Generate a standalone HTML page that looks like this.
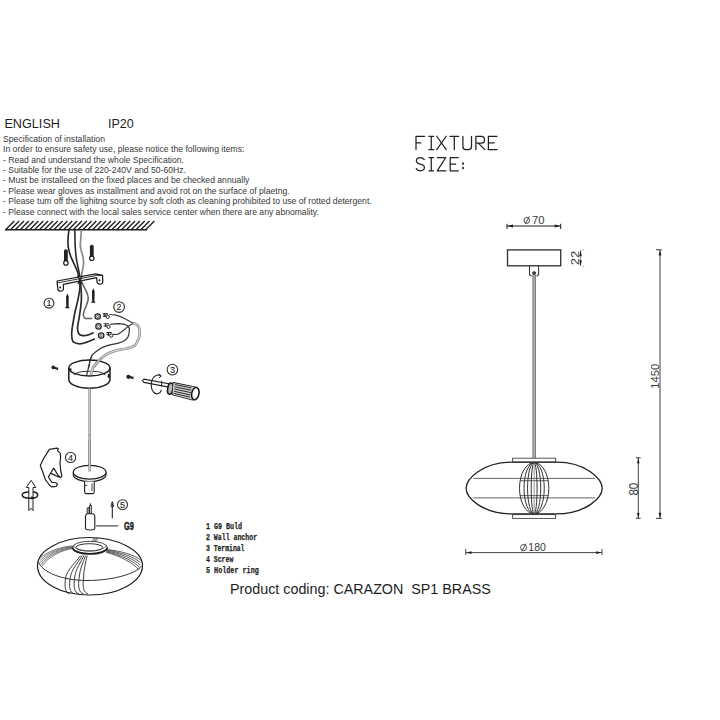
<!DOCTYPE html>
<html><head><meta charset="utf-8"><style>
html,body{margin:0;padding:0;background:#fff;width:720px;height:720px;overflow:hidden}
svg{display:block}

</style></head><body>
<svg width="720" height="720" viewBox="0 0 720 720">
<rect width="720" height="720" fill="#fff"/>
<text x="4.4" y="127.5" font-family="Liberation Sans" font-size="13.3" fill="#1e1e1e" textLength="55.6" lengthAdjust="spacingAndGlyphs">ENGLISH</text>
<text x="107.9" y="127.5" font-family="Liberation Sans" font-size="13.4" fill="#1e1e1e" textLength="25.8" lengthAdjust="spacingAndGlyphs">IP20</text>
<text x="3" y="142.0" font-family="Liberation Sans" font-size="9" fill="#383838" textLength="102.0" lengthAdjust="spacingAndGlyphs">Specification of installation</text>
<text x="3" y="152.3" font-family="Liberation Sans" font-size="9" fill="#383838" textLength="241.4" lengthAdjust="spacingAndGlyphs">In order to ensure safety use, please notice the following items:</text>
<text x="3" y="162.6" font-family="Liberation Sans" font-size="9" fill="#383838" textLength="181.0" lengthAdjust="spacingAndGlyphs">- Read and understand the whole Specification.</text>
<text x="3" y="173.0" font-family="Liberation Sans" font-size="9" fill="#383838" textLength="183.0" lengthAdjust="spacingAndGlyphs">- Suitable for the use of 220-240V and 50-60Hz.</text>
<text x="3" y="183.3" font-family="Liberation Sans" font-size="9" fill="#383838" textLength="246.4" lengthAdjust="spacingAndGlyphs">- Must be installeed on the fixed places and be checked annually</text>
<text x="3" y="193.9" font-family="Liberation Sans" font-size="9" fill="#383838" textLength="286.7" lengthAdjust="spacingAndGlyphs">- Please wear gloves as installment and avoid rot on the surface of plaetng.</text>
<text x="3" y="204.2" font-family="Liberation Sans" font-size="9" fill="#383838" textLength="368.7" lengthAdjust="spacingAndGlyphs">- Please tum off the lighitng source by soft cloth as cleaning prohibited to use of rotted detergent.</text>
<text x="3" y="214.6" font-family="Liberation Sans" font-size="9" fill="#383838" textLength="315.9" lengthAdjust="spacingAndGlyphs">- Please connect with the local sales service center when there are any abnomality.</text>
<text x="230" y="593.5" font-family="Liberation Sans" font-size="14.3" fill="#1e1e1e" textLength="260.8" lengthAdjust="spacingAndGlyphs" xml:space="preserve">Product coding: CARAZON  SP1 BRASS</text>
<text x="206" y="528.9" font-family="Liberation Mono" font-weight="bold" font-size="9" fill="#1e1e1e" stroke="#1e1e1e" stroke-width="0.25" textLength="36.1" lengthAdjust="spacingAndGlyphs" xml:space="preserve">1 G9 Buld</text>
<text x="206" y="540.0" font-family="Liberation Mono" font-weight="bold" font-size="9" fill="#1e1e1e" stroke="#1e1e1e" stroke-width="0.25" textLength="51.1" lengthAdjust="spacingAndGlyphs" xml:space="preserve">2 Wall anchor</text>
<text x="206" y="551.4" font-family="Liberation Mono" font-weight="bold" font-size="9" fill="#1e1e1e" stroke="#1e1e1e" stroke-width="0.25" textLength="38.4" lengthAdjust="spacingAndGlyphs" xml:space="preserve">3 Terminal</text>
<text x="206" y="562.2" font-family="Liberation Mono" font-weight="bold" font-size="9" fill="#1e1e1e" stroke="#1e1e1e" stroke-width="0.25" textLength="27.3" lengthAdjust="spacingAndGlyphs" xml:space="preserve">4 Screw</text>
<text x="206" y="573.3" font-family="Liberation Mono" font-weight="bold" font-size="9" fill="#1e1e1e" stroke="#1e1e1e" stroke-width="0.25" textLength="52.8" lengthAdjust="spacingAndGlyphs" xml:space="preserve">5 Holder ring</text>
<path d="M416 149.6 V136.25 H424.6 M416 142.9 H420.8 M431.25 136.25 V149.6 M428.9 136.25 H433.6 M428.9 149.6 H433.6 M436.7 136.25 L446.2 149.6 M446.2 136.25 L436.7 149.6 M450 136.25 H458.75 M454.3 136.25 V149.6 M462.9 136.25 V146.5 Q462.9 149.6 465.8 149.6 H468.6 Q471.5 149.6 471.5 146.5 V136.25 M475.9 149.6 V136.25 H481.5 Q484.5 136.25 484.5 139.7 Q484.5 143.1 481.5 143.1 H475.9 M478.3 143.1 L484.8 149.6 M497 136.25 H488.4 V149.6 H497 M488.4 142.8 H494.2 M424.3 159.6 Q422.8 157.5 420.3 157.5 Q416.4 157.5 416.4 160.8 Q416.4 163.5 420.3 164.1 Q424.4 164.8 424.4 167.6 Q424.4 170.8 420.3 170.8 Q417.4 170.8 416.3 168.6 M431.25 157.5 V170.8 M428.9 157.5 H433.6 M428.9 170.8 H433.6 M437.3 157.5 H445.8 L437.2 170.8 H445.9 M458.3 157.5 H450.2 V170.8 H458.3 M450.2 164.1 H455.8" fill="none" stroke="#222" stroke-width="1.25" stroke-linecap="round" stroke-linejoin="round"/>
<rect x="462.2" y="162.4" width="1.6" height="2.4" fill="#1e1e1e"/><rect x="462.2" y="166.8" width="1.6" height="2.4" fill="#1e1e1e"/>
<path d="M507 226 H560.7 M507 223.8 V229 M560.7 223.8 V229" stroke="#1e1e1e" stroke-width="1" fill="none"/>
<path d="M507.5 226 L513 224.6 L513 227.4 Z M560.2 226 L554.7 224.6 L554.7 227.4 Z" fill="#1e1e1e"/>
<rect x="507.5" y="249.9" width="53.2" height="15.9" fill="none" stroke="#333" stroke-width="1.35"/>
<path d="M529.5 266 V274.8 L531.6 276.2 M538.6 266 V274.8 L536.6 276.2" fill="none" stroke="#333" stroke-width="1.05"/>
<circle cx="534.1" cy="273.1" r="1.9" fill="#222"/><circle cx="534.1" cy="273.1" r="0.6" fill="#888"/>
<path d="M534.15 275 V458" stroke="#666" stroke-width="3.4" fill="none"/>
<path d="M534.15 275 V458" stroke="#b4b4b4" stroke-width="1.6" fill="none"/>
<path d="M580.6 249.8 V266" stroke="#666" stroke-width="0.8"/>
<path d="M580.6 250.2 L579.4 256.2 L581.8 256.2 Z M580.6 266.2 L579.4 260.2 L581.8 260.2 Z" fill="#1e1e1e"/>
<path d="M582.4 249.6 H584.2 M582.4 266.6 H584.2" stroke="#999" stroke-width="0.8"/>
<path d="M660 250 V518.3" stroke="#8a8a8a" stroke-width="1.6"/>
<path d="M656 249.8 H661.8 M656 518.3 H661.8" stroke="#333" stroke-width="1"/>
<path d="M660 250.3 L658.6 255.6 L661.4 255.6 Z M660 518 L658.6 512.7 L661.4 512.7 Z" fill="#1e1e1e"/>
<path d="M638.3 458 V518.3" stroke="#555" stroke-width="1.1"/>
<path d="M636 457.8 H640.6 M636 518.3 H640.6" stroke="#333" stroke-width="1"/>
<path d="M638.3 458.2 L637 463.3 L639.6 463.3 Z M638.3 518 L637 512.9 L639.6 512.9 Z" fill="#1e1e1e"/>
<path d="M465.7 552.6 H602 M465.7 549 V555 M602 549 V555" stroke="#444" stroke-width="1"/>
<path d="M466.2 552.6 L471.5 551.3 L471.5 553.9 Z M601.5 552.6 L596.2 551.3 L596.2 553.9 Z" fill="#1e1e1e"/>
<text x="531.9" y="224.4" font-family="Liberation Sans" font-size="11.2" fill="#3a3a3a" textLength="12.6" lengthAdjust="spacingAndGlyphs">70</text>
<ellipse cx="526.85" cy="220.4" rx="2.7" ry="3.1" fill="none" stroke="#3a3a3a" stroke-width="0.9"/><path d="M525.4 223.9 L529.3 216.4" stroke="#3a3a3a" stroke-width="0.9"/>
<text x="528.3" y="551.2" font-family="Liberation Sans" font-size="10.2" fill="#3a3a3a" textLength="17.6" lengthAdjust="spacingAndGlyphs">180</text>
<ellipse cx="523.6" cy="547.6" rx="3.0" ry="3.2" fill="none" stroke="#3a3a3a" stroke-width="0.9"/><path d="M521.8 551.4 L525.8 543.6" stroke="#3a3a3a" stroke-width="0.9"/>
<text transform="translate(658.7 388.7) rotate(-90)" x="0" y="0" font-family="Liberation Sans" font-size="11.4" fill="#3a3a3a" textLength="25" lengthAdjust="spacingAndGlyphs">1450</text>
<text transform="translate(637.8 495.6) rotate(-90)" x="0" y="0" font-family="Liberation Sans" font-size="12" fill="#333" textLength="12.8" lengthAdjust="spacingAndGlyphs">80</text>
<text transform="translate(578.6 265.2) rotate(-90)" x="0" y="0" font-family="Liberation Sans" font-size="10.3" fill="#3a3a3a" textLength="14.4" lengthAdjust="spacingAndGlyphs">22</text>
<rect x="512.6" y="458.2" width="43" height="4" fill="none" stroke="#444" stroke-width="0.9"/>
<rect x="512.6" y="514.6" width="43" height="3.8" fill="none" stroke="#444" stroke-width="0.9"/>
<path d="M512 462.2 H556.3 C586 462.2 602.2 479 602.2 488.3 C602.2 497.6 586 513.9 556.3 513.9 H512 C482.3 513.9 466.1 497.6 466.1 488.3 C466.1 479 482.3 462.2 512 462.2 Z" fill="none" stroke="#222" stroke-width="1.3"/>
<path d="M473.3 478.4 H595 M473.3 497.9 H595 M520 480.7 H548.5 M520 495.6 H548.5" stroke="#555" stroke-width="0.9"/>
<ellipse cx="534.15" cy="488.2" rx="14.65" ry="25.6" fill="none" stroke="#333" stroke-width="1"/>
<ellipse cx="534.15" cy="488.2" rx="10.11" ry="25.6" fill="none" stroke="#333" stroke-width="1"/>
<ellipse cx="534.15" cy="488.2" rx="6.59" ry="25.6" fill="none" stroke="#333" stroke-width="1"/>
<ellipse cx="534.15" cy="488.2" rx="2.93" ry="25.6" fill="none" stroke="#333" stroke-width="1"/>
<path d="M534.15 462.6 V513.8" stroke="#777" stroke-width="0.8"/>
<path d="M5 229.8 H147.2" stroke="#1e1e1e" stroke-width="1.5"/>
<path d="M5.60 229.8 L14.30 221.1 M10.43 229.8 L19.13 221.1 M15.26 229.8 L23.96 221.1 M20.09 229.8 L28.79 221.1 M24.92 229.8 L33.62 221.1 M29.75 229.8 L38.45 221.1 M34.58 229.8 L43.28 221.1 M39.41 229.8 L48.11 221.1 M44.24 229.8 L52.94 221.1 M49.07 229.8 L57.77 221.1 M53.90 229.8 L62.60 221.1 M58.73 229.8 L67.43 221.1 M63.56 229.8 L72.26 221.1 M68.39 229.8 L77.09 221.1 M73.22 229.8 L81.92 221.1 M78.05 229.8 L86.75 221.1 M82.88 229.8 L91.58 221.1 M87.71 229.8 L96.41 221.1 M92.54 229.8 L101.24 221.1 M97.37 229.8 L106.07 221.1 M102.20 229.8 L110.90 221.1 M107.03 229.8 L115.73 221.1 M111.86 229.8 L120.56 221.1 M116.69 229.8 L125.39 221.1 M121.52 229.8 L130.22 221.1 M126.35 229.8 L135.05 221.1 M131.18 229.8 L139.88 221.1 M136.01 229.8 L144.71 221.1 M140.84 229.8 L149.54 221.1 M145.67 229.8 L154.37 221.1" stroke="#1e1e1e" stroke-width="1.35"/>
<path d="M68.9 230 C67.5 240 67.6 246 68.9 250.3 C70 255 71 257 71.7 258.6 C73.5 263 75 266 75.8 267.6 C77.5 271 78.5 274 79.6 279" fill="none" stroke="#222" stroke-width="1.6"/>
<path d="M74.8 230 C75 238 75 242 75.1 245.4 C75.5 252 76 256 76.5 259.3 C77.2 264 78 267 78.6 269.7 C79.2 273 79.7 276 80 279" fill="none" stroke="#2a2a2a" stroke-width="1.6"/>
<path d="M81.4 230 C81 238 80.3 242 80.3 245.4 C80.5 250 82 253 82.8 255.8 C83.5 259 83.7 262 83.5 264.2 C83 270 82 273 80.5 279" fill="none" stroke="#8a8a8a" stroke-width="1.7"/>
<path d="M64.00 261.40 V251.10 Q64.00 249.20 65.90 249.20 Q67.80 249.20 67.80 251.10 V261.40 Z" fill="#222"/>
<circle cx="65.90" cy="262.90" r="2.2" fill="#fff" stroke="#1a1a1a" stroke-width="1.2"/>
<path d="M89.90 256.80 V246.60 Q89.90 244.70 91.80 244.70 Q93.70 244.70 93.70 246.60 V256.80 Z" fill="#222"/>
<circle cx="91.80" cy="258.30" r="2.2" fill="#fff" stroke="#1a1a1a" stroke-width="1.2"/>
<path d="M57.1 281 L95.8 273.8 L102.6 275.4 L102.8 281.5 Q102.6 284.4 99.8 284.2 Q97.2 284 97 281.5 L96.6 277.6 L63.4 284.3 L63.4 289.6 Q62.8 291.4 60.2 291.2 Q57.8 290.8 57.8 288.8 L57.2 283 Z" fill="#fff" stroke="#1e1e1e" stroke-width="1.25" stroke-linejoin="round"/>
<path d="M57.2 283 L96.4 275.5 L102.6 275.4" fill="none" stroke="#1e1e1e" stroke-width="0.9"/>
<circle cx="60.1" cy="287.6" r="1" fill="#1e1e1e"/><circle cx="99.5" cy="280.2" r="1" fill="#1e1e1e"/>
<path d="M79.6 279 C80.3 283 80.2 290 78 299.4 C76.5 306 74.5 313 73.7 318.9 C72.8 325 71.5 330 71.7 334.4 C71.8 339 72.5 341.5 73.7 342.2 C75.5 343.6 78 344 81.4 343.7 C86 343 91 340.5 95 338.8" fill="none" stroke="#2a2a2a" stroke-width="1.7"/>
<path d="M80 279 C80.8 285 81.6 292 81.4 299.4 C81.2 306 79.8 313 79 318.9 C78.2 323 77.4 326 77.5 328.6 C77.7 332 79.2 335 81.4 335.4 C83 335.7 84.5 335.6 86.3 335.4 C89 335 91.5 333.5 93.6 332.5" fill="none" stroke="#2a2a2a" stroke-width="1.7"/>
<path d="M80.5 279 C82 285 87.6 291 88.2 297.5 C88.5 301.5 86.5 305 84.8 309.2 C83.8 312 83.2 314 83.4 315 C83.8 317.5 84.5 318.4 85.3 318.4 C88 318.5 90 318.4 92.1 318.4" fill="none" stroke="#606060" stroke-width="1.5"/>
<path d="M77.5 275.5 L82 284 M82.2 275.5 L78 284" stroke="#1e1e1e" stroke-width="1.3"/>
<path d="M67.40 293.60 L68.70 296.60 L68.50 306.60 L69.80 308.20 L65.00 308.20 L66.30 306.60 L66.10 296.60 Z" fill="#1a1a1a"/>
<path d="M93.30 288.30 L94.60 291.30 L94.40 301.20 L95.70 302.80 L90.90 302.80 L92.20 301.20 L92.00 291.30 Z" fill="#1a1a1a"/>
<circle cx="49.0" cy="303.2" r="4.9" fill="none" stroke="#2a2a2a" stroke-width="1.05"/>
<text x="49.0" y="306.4" font-family="Liberation Sans" font-size="9" fill="#2a2a2a" stroke="#2a2a2a" stroke-width="0.12" text-anchor="middle">1</text>
<circle cx="119.1" cy="307.0" r="5.35" fill="none" stroke="#2a2a2a" stroke-width="1.05"/>
<text x="119.1" y="310.2" font-family="Liberation Sans" font-size="9" fill="#2a2a2a" stroke="#2a2a2a" stroke-width="0.12" text-anchor="middle">2</text>
<circle cx="172.4" cy="369.6" r="5.3" fill="none" stroke="#2a2a2a" stroke-width="1.05"/>
<text x="172.4" y="372.8" font-family="Liberation Sans" font-size="9" fill="#2a2a2a" stroke="#2a2a2a" stroke-width="0.12" text-anchor="middle">3</text>
<circle cx="70.6" cy="457.4" r="5.1" fill="none" stroke="#2a2a2a" stroke-width="1.05"/>
<text x="70.6" y="460.59999999999997" font-family="Liberation Sans" font-size="9" fill="#2a2a2a" stroke="#2a2a2a" stroke-width="0.12" text-anchor="middle">4</text>
<circle cx="122.5" cy="504.7" r="5.0" fill="none" stroke="#2a2a2a" stroke-width="1.05"/>
<text x="122.5" y="507.9" font-family="Liberation Sans" font-size="9" fill="#2a2a2a" stroke="#2a2a2a" stroke-width="0.12" text-anchor="middle">5</text>
<circle cx="97.7" cy="316.5" r="2.7" fill="#fff" stroke="#1e1e1e" stroke-width="1.2"/>
<circle cx="97.7" cy="316.5" r="1.1" fill="none" stroke="#333" stroke-width="0.8"/>
<path d="M102.90 313.90 H108.10 M102.90 316.10 H106.10 M104.90 313.50 V317.10" stroke="#222" stroke-width="1.1"/>
<circle cx="107.70" cy="316.90" r="1.6" fill="none" stroke="#222" stroke-width="1"/>
<circle cx="98.5" cy="326.4" r="2.7" fill="#fff" stroke="#1e1e1e" stroke-width="1.2"/>
<circle cx="98.5" cy="326.4" r="1.1" fill="none" stroke="#333" stroke-width="0.8"/>
<path d="M103.70 323.80 H108.90 M103.70 326.00 H106.90 M105.70 323.40 V327.00" stroke="#222" stroke-width="1.1"/>
<circle cx="108.50" cy="326.80" r="1.6" fill="none" stroke="#222" stroke-width="1"/>
<circle cx="101.2" cy="335.6" r="2.7" fill="#fff" stroke="#1e1e1e" stroke-width="1.2"/>
<circle cx="101.2" cy="335.6" r="1.1" fill="none" stroke="#333" stroke-width="0.8"/>
<path d="M106.40 332.60 H111.60 M106.40 334.80 H109.60 M108.40 332.20 V335.80" stroke="#222" stroke-width="1.1"/>
<circle cx="111.20" cy="335.60" r="1.6" fill="none" stroke="#222" stroke-width="1"/>
<path d="M109.2 314.5 C111 314.6 113 314.7 114.9 314.9 C119 315.8 123 317.5 126.4 319.5 C129 321 131.5 322.5 133.6 323.3" fill="none" stroke="#3a3a3a" stroke-width="1.1"/>
<path d="M112.6 334.4 C114 334.4 116 334.5 117.2 334.4 C121 333 124.5 329.5 127.1 327.2 C129.5 325.5 131.5 324 133.6 323.3" fill="none" stroke="#3a3a3a" stroke-width="1.1"/>
<path d="M109.6 324.5 C112 324.2 116 323.8 118.7 323.7 C122.5 323.8 125.5 324.5 127.1 325.6 C129 327 129.8 328.5 129.4 330.2 C129.2 333 128.8 335.5 127.9 337.1 C126.5 339.3 124.5 340.8 122.6 341.7 C118.5 343.3 115 344 111.1 344.7 C106 345.8 101.5 347.6 98.1 350.1 C95 352.4 93 354 92 355.4 C90 358.5 89.5 362 89.2 365 C88.3 369 87.2 372.5 86.7 375" fill="none" stroke="#333" stroke-width="1.2"/>
<path d="M133.6 323 C135.5 324 136.8 324.8 137.8 325.6 C139.2 327.5 139.8 329.5 139.7 331.7 C139.8 334 139.4 336.5 138.6 338.6 C137.6 341.5 136.5 343.8 134.8 345.5 C132.5 347.2 129.5 348 126.4 348.5 C122.5 349.3 118.5 350 114.9 350.8 C111.5 351.8 108.5 353 105.75 354.7 C103.5 356 101.5 358 99.6 360 C97 362.5 95 365 93.3 367.5 C92.3 370 91.3 372.5 90.8 375" fill="none" stroke="#999" stroke-width="2.8"/>
<path d="M133.6 323 C135.5 324 136.8 324.8 137.8 325.6 C139.2 327.5 139.8 329.5 139.7 331.7 C139.8 334 139.4 336.5 138.6 338.6 C137.6 341.5 136.5 343.8 134.8 345.5 C132.5 347.2 129.5 348 126.4 348.5 C122.5 349.3 118.5 350 114.9 350.8 C111.5 351.8 108.5 353 105.75 354.7 C103.5 356 101.5 358 99.6 360 C97 362.5 95 365 93.3 367.5 C92.3 370 91.3 372.5 90.8 375" fill="none" stroke="#e6e6e6" stroke-width="0.9"/>
<path d="M68.8 368 V379.4 A20.6 8.8 0 0 0 110 379.4 V368" fill="#fff" stroke="#1e1e1e" stroke-width="1.5"/>
<ellipse cx="89.4" cy="368" rx="20.6" ry="7.9" fill="none" stroke="#1e1e1e" stroke-width="1.5"/>
<path d="M74.3 375 Q76 371.2 89.6 371.2 Q103.2 371.2 105 375" fill="none" stroke="#333" stroke-width="1.1"/>
<path d="M92 355.4 C90 358.5 89.5 362 89.2 365 C88.3 369 87.2 372.5 86.7 375" fill="none" stroke="#333" stroke-width="1.2"/>
<path d="M99.6 360 C97 362.5 95 365 93.3 367.5 C92.3 370 91.3 372.5 90.8 375" fill="none" stroke="#999" stroke-width="2.6"/><path d="M99.6 360 C97 362.5 95 365 93.3 367.5 C92.3 370 91.3 372.5 90.8 375" fill="none" stroke="#e6e6e6" stroke-width="0.8"/>
<ellipse cx="70.5" cy="369.6" rx="1.1" ry="1.3" fill="#222"/><ellipse cx="108.8" cy="375.9" rx="1.2" ry="2.2" fill="#222"/>
<path d="M53 367.2 L57.2 368.8" stroke="#222" stroke-width="2"/><circle cx="53.2" cy="367.4" r="1.8" fill="#222"/><path d="M57.6 367.6 V370" stroke="#222" stroke-width="1"/>
<path d="M128.2 376.4 L132.6 378" stroke="#222" stroke-width="2.3"/><circle cx="128.4" cy="376.8" r="2.1" fill="#222"/><path d="M133 376.4 V379.2" stroke="#222" stroke-width="1.1"/>
<path d="M89.6 388.5 V471" stroke="#8a8a8a" stroke-width="2.5"/>
<path d="M89.6 388.5 V471" stroke="#d8d8d8" stroke-width="0.9"/>
<circle cx="89.6" cy="435.6" r="1" fill="#999"/>
<path d="M142.3 380.6 L144 379.2 L168.5 383.8 L168.5 387 L144 382.4 Z" fill="#fff" stroke="#222" stroke-width="1.1"/>
<path d="M173.4 382.9 L195.2 387.3 L192.6 399.8 L172.5 394.6 Z" fill="#fff" stroke="#1a1a1a" stroke-width="1.6" stroke-linejoin="round"/>
<ellipse cx="170.3" cy="388.6" rx="2.6" ry="5.7" transform="rotate(10 170.3 388.6)" fill="#bbb" stroke="#1a1a1a" stroke-width="1.6"/>
<path d="M173.4 382.9 L195.2 387.3 L192.6 399.8 L172.5 394.6 Z" fill="#d0d0d0"/>
<path d="M175 384.6 L191.5 387.9 M174.6 386.8 L191.2 390.2 M174.3 389 L190.8 392.6 M174 391.3 L190.4 395 M173.7 393.4 L190 397.2" stroke="#2a2a2a" stroke-width="1"/>
<ellipse cx="195.3" cy="393.6" rx="3.6" ry="6.2" transform="rotate(12 195.3 393.6)" fill="#fff" stroke="#1a1a1a" stroke-width="1.6"/>
<path d="M160.3 375.6 C156 373.5 151.2 378 151.2 385 C151.3 391 154.5 394.5 157.8 393.8 C159.5 393.4 160.8 392 161.5 390" fill="none" stroke="#222" stroke-width="1.1"/>
<path d="M158.6 373.9 L161.3 375.8 L159 377.8" fill="none" stroke="#222" stroke-width="1"/>
<path d="M161.6 380.8 V386.5" stroke="#222" stroke-width="1"/>
<path d="M49.4 449.4 L56.9 448.1 L58.4 448.75 L57.5 450.6 L60.3 453.4 L60.6 457.5 L60 462.5 L60.6 470 L61.5 474 L61.9 476.3 L60 477.5 L55.6 475.6 L50.6 473.1 L53.75 468.1 L57.5 474.4 L60 477.5 M50.6 473.1 L48.4 477 L51.9 482.3 L55.6 482.5 L57.5 484.4 L56.3 486.3 L51.9 486.9 L50 485.6 L45.6 480 L42.5 471.25 L40.3 465.6 L43.1 459.4 L49.4 449.4" fill="none" stroke="#222" stroke-width="1.2" stroke-linejoin="round"/>
<path d="M73.3 472.3 V474.8 A16.35 6.9 0 0 0 106 474.8 V472.3" fill="#fff" stroke="#1e1e1e" stroke-width="1.2"/>
<ellipse cx="89.65" cy="472.2" rx="16.35" ry="6.9" fill="#fff" stroke="#1e1e1e" stroke-width="1.2"/>
<path d="M89.6 440 V471.5" stroke="#8a8a8a" stroke-width="2.5"/><path d="M89.6 440 V471.5" stroke="#d8d8d8" stroke-width="0.9"/>
<path d="M84.6 481.6 V492 Q84.6 493.6 86.2 493.6 H92.6 Q94.2 493.6 94.2 492 V481.6" fill="#fff" stroke="#1e1e1e" stroke-width="1.1"/>
<path d="M92 483.5 V491 M84.6 485.5 H87.2" stroke="#333" stroke-width="0.9"/>
<path d="M28.8 510.6 V487.5 H26.3 L31.1 480.3 L35.8 487.5 H33 V510.6 L31 508.3 Z" fill="#fff" stroke="#222" stroke-width="1" stroke-linejoin="round"/>
<path d="M28.8 491.9 C24 492 22.2 493.5 22.2 495 C22.2 497.2 26 498.2 30 498.3 C33.5 498.3 37.6 497.6 37.7 495 C37.7 493.3 35.5 492 33 491.9" fill="none" stroke="#1e1e1e" stroke-width="1.5"/>
<path d="M30.8 496.5 L36.9 497.5 L31.3 499.4 Z" fill="#1e1e1e"/>
<path d="M85.5 516.5 Q85.5 514.4 87.2 513.8 L93.2 513.8 Q94.8 514.4 94.8 516.5 V528.6 Q94.8 530 90.15 530 Q85.5 530 85.5 528.6 Z" fill="#fff" stroke="#1e1e1e" stroke-width="1.1"/>
<path d="M87.2 513.8 L87.2 508 L89 507.6 L89 513.8 M89.6 513.8 V505.5 L91.3 505.5 V513.8 M90.4 505.5 V503.3" fill="none" stroke="#222" stroke-width="1"/>
<path d="M96.2 525.9 H118.1" stroke="#333" stroke-width="1.1"/>
<text x="124.1" y="529.9" font-family="Liberation Sans" font-weight="bold" font-size="10.2" fill="#1a1a1a" stroke="#1a1a1a" stroke-width="0.45" textLength="9.8" lengthAdjust="spacingAndGlyphs">G9</text>
<path d="M112.3 518.3 V503" stroke="#222" stroke-width="1.1"/><path d="M112.3 501.5 L110.9 506 L112.3 507.6 L113.7 506 Z" fill="none" stroke="#222" stroke-width="0.9"/>
<path d="M37.5 565.5 C37.5 550 62 537.5 89 537.5 C117 537.5 142.5 550 142.5 565.5 C142.5 582 118 595 90 595 C60 595 37.5 582 37.5 565.5 Z" fill="#fff" stroke="#1e1e1e" stroke-width="1.2"/>
<path d="M38.5 562 C42 572 62 580.5 87 580.5 C112 580.5 136 574 141.5 566" fill="none" stroke="#333" stroke-width="1"/>
<ellipse cx="89.9" cy="547.5" rx="17.5" ry="6.2" fill="#fff" stroke="#333" stroke-width="0.9"/>
<path d="M72.6 547.6 A17.3 6.3 0 0 0 107.2 547.6" fill="none" stroke="#1a1a1a" stroke-width="1.8"/>
<ellipse cx="89.4" cy="547.4" rx="13.4" ry="3.7" fill="none" stroke="#333" stroke-width="1"/>
<path d="M73.6 545 A16 5.2 0 0 0 106 546" fill="none" stroke="#555" stroke-width="0.7"/>
<path d="M80.70 555.6 C76.50 561.5 67.50 569 65.60 578 C64.40 586 65.00 593 69.50 593.6 M82.30 555.6 C78.90 561.5 71.50 569 70.10 578 C68.90 586 69.60 593 74.10 593.6 M83.90 555.6 C81.30 561.5 75.50 569 74.60 578 C73.40 586 74.20 593 78.70 593.6 M85.50 555.6 C83.70 561.5 79.50 569 79.10 578 C77.90 586 78.80 593 83.30 593.6 M87.10 555.6 C86.10 561.5 83.50 569 83.60 578 C82.40 586 83.40 593 87.90 593.6" fill="none" stroke="#2a2a2a" stroke-width="0.9"/>
<path d="M106.80 549.50 C121.00 551.00 135.00 555.00 141.20 560.50 M106.60 550.20 C120.70 552.20 134.60 557.00 140.60 562.80 M106.40 550.90 C120.40 553.40 134.20 559.00 140.00 565.10 M106.20 551.60 C120.10 554.60 133.80 561.00 139.40 567.40 M106.00 552.30 C119.80 555.80 133.40 563.00 138.80 569.70" fill="none" stroke="#333" stroke-width="0.8"/>
<path d="M72.60 546.00 C62.00 546.50 47.00 551.00 39.20 559.00 M72.90 546.60 C62.00 547.30 47.30 552.40 39.80 560.90 M73.20 547.20 C62.00 548.10 47.60 553.80 40.40 562.80 M73.50 547.80 C62.00 548.90 47.90 555.20 41.00 564.70 M73.80 548.40 C62.00 549.70 48.20 556.60 41.60 566.60" fill="none" stroke="#444" stroke-width="0.7"/>
<path d="M92.00 541.8 L94.00 537.8 M93.40 541.8 L95.40 537.8 M94.80 541.8 L96.80 537.8 M96.20 541.8 L98.20 537.8" fill="none" stroke="#444" stroke-width="0.7"/>
</svg>
</body></html>
